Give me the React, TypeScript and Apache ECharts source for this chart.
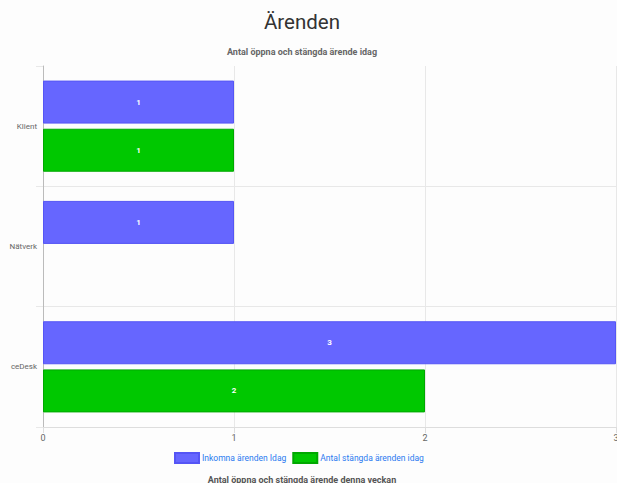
import React, { useEffect, useRef } from "react";
import * as echarts from "echarts";

const categories = ["Klient", "Nätverk", "ceDesk"];
const incoming = [1, 1, 3];
const closed: (number | null)[] = [1, null, 2];
const xTicks = [0, 1, 2, 3];
const seriesNames = ["Inkomna ärenden Idag", "Antal stängda ärenden idag"];
const titleText = "Ärenden";
const subtitleText = "Antal öppna och stängda ärende idag";
const footerText = "Antal öppna och stängda ärende denna veckan";

export default function App() {
  const ref = useRef<HTMLDivElement>(null);
  useEffect(() => {
    const chart = echarts.init(ref.current!, null, { renderer: "svg" });
    const font = "Roboto, 'Liberation Sans', Arial, sans-serif";
    const labelCfg = {
      show: true,
      position: "inside",
      color: "#fff",
      fontSize: 8,
      fontWeight: "bold",
      fontFamily: font,
    };
    chart.setOption({
      animation: false,
      backgroundColor: "#fdfdfd",
      textStyle: { fontFamily: font },
      legend: {
        bottom: 14,
        left: 169,
        itemWidth: 24,
        itemHeight: 10,
        itemGap: 6,
        icon: "rect",
        textStyle: { color: "#2b7bf0", fontSize: 8.5, padding: [0, 0, 0, -2] },
        data: seriesNames,
      },
      grid: {
        left: 43,
        right: 1,
        top: 66,
        bottom: 56,
        containLabel: false,
        outerBoundsMode: "none",
      },
      xAxis: {
        type: "value",
        min: xTicks[0],
        max: xTicks[xTicks.length - 1],
        interval: 1,
        axisLine: { show: true, lineStyle: { color: "#ddd" } },
        axisTick: { show: true, length: 6, lineStyle: { color: "#ddd" } },
        axisLabel: { color: "#666", fontSize: 9, margin: 6 },
        splitLine: { show: true, showMinLine: false, lineStyle: { color: "#e8e8e8" } },
      },
      yAxis: {
        type: "category",
        data: categories,
        inverse: true,
        axisLine: { show: true, lineStyle: { color: "#bbb" } },
        axisTick: { show: true, length: 7, lineStyle: { color: "#e8e8e8" } },
        axisLabel: { color: "#666", fontSize: 8, margin: 6 },
        splitLine: { show: true, showMinLine: false, lineStyle: { color: "#e8e8e8" } },
      },
      series: [
        {
          name: seriesNames[0],
          type: "bar",
          data: incoming,
          barWidth: 43,
          barGap: "12%",
          itemStyle: { color: "#6666ff", borderColor: "#5555f5", borderWidth: 1 },
          label: labelCfg,
        },
        {
          name: seriesNames[1],
          type: "bar",
          data: closed,
          barWidth: 43,
          barGap: "12%",
          itemStyle: { color: "#00c800", borderColor: "#00a800", borderWidth: 1 },
          label: labelCfg,
        },
      ],
      graphic: [
        {
          type: "text",
          x: 302,
          y: 22,
          style: {
            text: titleText,
            fill: "#333",
            fontSize: 20.5,
            fontFamily: font,
            align: "center",
            verticalAlign: "middle",
          },
        },
        {
          type: "text",
          x: 302,
          y: 52,
          style: {
            text: subtitleText,
            fill: "#666",
            fontSize: 9,
            fontWeight: "bold",
            fontFamily: font,
            align: "center",
            verticalAlign: "middle",
          },
        },
        {
          type: "text",
          x: 302,
          y: 480,
          style: {
            text: footerText,
            fill: "#555",
            fontSize: 9,
            fontWeight: "bold",
            fontFamily: font,
            align: "center",
            verticalAlign: "middle",
          },
        },
      ],
    });
    return () => chart.dispose();
  }, []);
  return (
    <div
      ref={ref}
      style={{ position: "absolute", left: 0, top: 0, width: 617, height: 483 }}
    />
  );
}
